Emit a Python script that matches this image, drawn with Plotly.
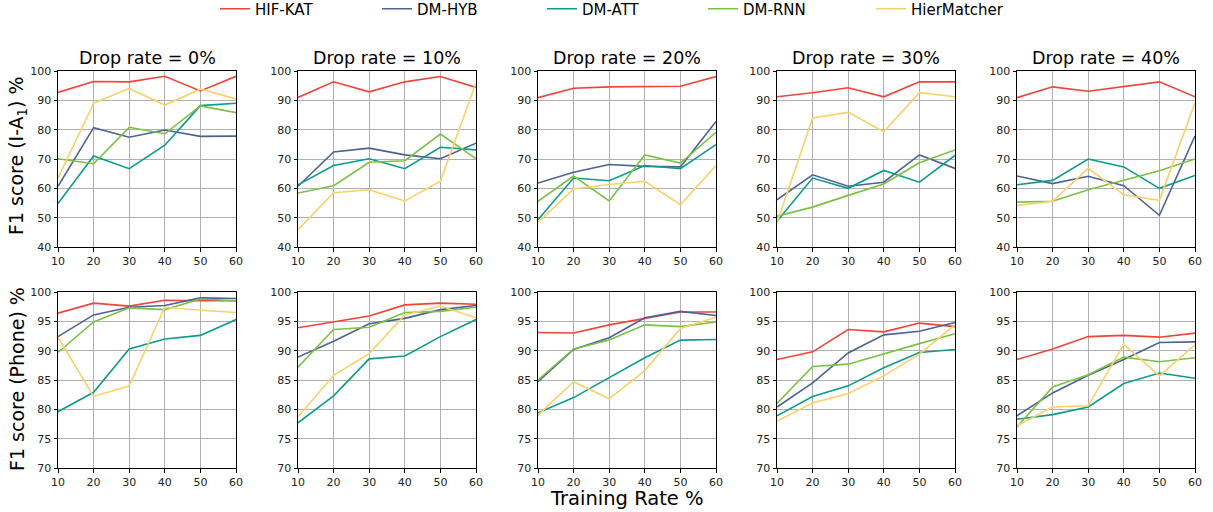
import plotly.graph_objects as go
from plotly.subplots import make_subplots

training_rate = [10, 20, 30, 40, 50, 60]
drop_rates = ["0%", "10%", "20%", "30%", "40%"]
methods = ["HIF-KAT", "DM-HYB", "DM-ATT", "DM-RNN", "HierMatcher"]
colors = ["#F0433A", "#4C6292", "#0D9A89", "#7BC144", "#F8D16B"]

# Row 1: F1 score (I-A1) %
ia1_hifkat = [
    [92.7, 96.4, 96.3, 98.2, 93.2, 98.2],
    [91.0, 96.3, 92.9, 96.3, 98.1, 94.4],
    [90.9, 94.1, 94.6, 94.7, 94.8, 98.1],
    [91.2, 92.6, 94.3, 91.2, 96.3, 96.3],
    [90.9, 94.6, 93.1, 94.6, 96.3, 91.2],
]
ia1_dmhyb = [
    [60.7, 80.7, 77.4, 79.9, 77.7, 77.8],
    [60.7, 72.4, 73.7, 71.4, 70.1, 75.4],
    [61.8, 65.5, 68.1, 67.5, 67.3, 82.8],
    [56.1, 64.6, 60.7, 62.1, 71.4, 66.8],
    [64.2, 61.6, 64.1, 60.9, 50.8, 77.9],
]
ia1_dmatt = [
    [54.8, 71.0, 66.7, 74.7, 88.2, 89.0],
    [61.2, 67.8, 70.1, 66.7, 74.0, 73.1],
    [49.3, 63.5, 62.6, 67.8, 66.7, 74.9],
    [48.8, 63.5, 60.0, 66.1, 62.1, 71.2],
    [61.2, 62.7, 70.0, 67.3, 60.0, 64.4],
]
ia1_dmrnn = [
    [70.1, 68.4, 80.8, 78.6, 88.1, 85.8],
    [58.4, 60.9, 68.9, 69.4, 78.5, 70.1],
    [55.6, 64.2, 55.7, 71.4, 68.6, 79.1],
    [50.5, 53.6, 57.6, 61.5, 68.7, 73.1],
    [55.3, 55.6, 59.5, 62.8, 66.0, 70.0],
]
ia1_hiermatcher = [
    [63.5, 89.0, 94.1, 88.4, 93.8, 90.5],
    [45.9, 58.5, 59.5, 55.7, 62.4, 96.0],
    [48.4, 59.8, 61.3, 62.4, 54.4, 67.8],
    [48.2, 84.0, 85.9, 79.3, 92.6, 91.2],
    [54.2, 55.6, 66.8, 57.8, 55.9, 89.2],
]

# Row 2: F1 score (Phone) %
phone_hifkat = [
    [96.4, 98.1, 97.6, 98.6, 98.5, 98.5],
    [93.9, 94.9, 95.9, 97.8, 98.1, 97.9],
    [93.1, 93.0, 94.4, 95.5, 96.6, 96.6],
    [88.5, 89.8, 93.6, 93.2, 94.7, 94.1],
    [88.5, 90.3, 92.4, 92.6, 92.3, 93.0],
]
phone_dmhyb = [
    [92.4, 96.1, 97.4, 97.7, 99.0, 98.9],
    [88.9, 91.6, 94.6, 95.5, 97.0, 97.7],
    [84.7, 90.2, 92.2, 95.6, 96.7, 96.0],
    [80.4, 84.5, 89.6, 92.7, 93.3, 94.8],
    [78.9, 82.8, 85.8, 88.5, 91.4, 91.5],
]
phone_dmatt = [
    [79.6, 82.9, 90.3, 92.0, 92.6, 95.3],
    [77.7, 82.3, 88.6, 89.1, 92.4, 95.3],
    [79.4, 82.0, 85.4, 88.8, 91.8, 91.9],
    [78.9, 82.2, 84.0, 87.1, 89.7, 90.2],
    [78.3, 79.1, 80.4, 84.4, 86.2, 85.3],
]
phone_dmrnn = [
    [89.7, 94.9, 97.3, 97.0, 98.8, 98.5],
    [87.2, 93.6, 94.0, 96.5, 96.7, 97.4],
    [85.0, 90.3, 91.8, 94.4, 94.1, 94.9],
    [81.0, 87.3, 87.7, 89.5, 91.2, 92.9],
    [77.0, 83.8, 85.9, 88.9, 88.1, 88.8],
]
phone_hiermatcher = [
    [92.3, 82.2, 84.0, 97.4, 96.9, 96.5],
    [78.7, 85.8, 89.5, 96.1, 97.6, 95.6],
    [79.0, 84.7, 81.8, 86.6, 93.8, 95.7],
    [78.0, 81.1, 82.7, 85.7, 89.4, 94.4],
    [77.2, 80.4, 80.6, 91.1, 85.7, 91.0],
]

row_data = [
    [ia1_hifkat, ia1_dmhyb, ia1_dmatt, ia1_dmrnn, ia1_hiermatcher],
    [phone_hifkat, phone_dmhyb, phone_dmatt, phone_dmrnn, phone_hiermatcher],
]

W, H = 1213, 512
FONT = "DejaVu Sans"
col_px = [(58, 236), (298, 476), (538, 716), (777, 955), (1017, 1195)]
row_px = [(71, 247), (292, 468)]
legend_px = [215, 377, 542, 703, 871]

fig = make_subplots(rows=2, cols=5)

for r in range(2):
    for c in range(5):
        for m in range(5):
            fig.add_trace(
                go.Scatter(
                    x=training_rate,
                    y=row_data[r][m][c],
                    mode="lines",
                    name=methods[m],
                    line=dict(color=colors[m], width=1.6),
                    showlegend=(r == 0 and c == 0),
                    legendgroup=methods[m],
                    legend="legend" if m == 0 else f"legend{m + 1}",
                ),
                row=r + 1, col=c + 1,
            )

axis_common = dict(
    showline=True, linecolor="black", linewidth=1, mirror=True,
    showgrid=True, gridcolor="#b0b0b0", gridwidth=1,
    ticks="outside", ticklen=3.5, tickcolor="black", tickwidth=1,
    tickfont=dict(family=FONT, size=11, color="#222"),
    zeroline=False, automargin=False,
)

for r in range(2):
    for c in range(5):
        idx = r * 5 + c + 1
        xa = "xaxis" if idx == 1 else f"xaxis{idx}"
        ya = "yaxis" if idx == 1 else f"yaxis{idx}"
        x0, x1 = col_px[c]
        y0, y1 = row_px[r]
        fig.layout[xa].update(
            domain=[x0 / W, x1 / W], range=[10, 60],
            tickmode="array", tickvals=training_rate, **axis_common,
        )
        if r == 0:
            fig.layout[ya].update(
                domain=[1 - y1 / H, 1 - y0 / H], range=[40, 100],
                tickmode="array", tickvals=[40, 50, 60, 70, 80, 90, 100], **axis_common,
            )
        else:
            fig.layout[ya].update(
                domain=[1 - y1 / H, 1 - y0 / H], range=[70, 100],
                tickmode="array", tickvals=[70, 75, 80, 85, 90, 95, 100], **axis_common,
            )

annotations = []
for c in range(5):
    x0, x1 = col_px[c]
    annotations.append(dict(
        text=f"Drop rate = {drop_rates[c]}", x=(x0 + x1) / 2 / W, y=1 - 58 / H,
        xref="paper", yref="paper", xanchor="center", yanchor="middle",
        showarrow=False, font=dict(family=FONT, size=17.5, color="black"),
    ))
annotations.append(dict(
    text="F1 score (I-A<sub>1</sub>) %", x=17 / W, y=1 - 156 / H, xref="paper", yref="paper",
    xanchor="center", yanchor="middle", textangle=-90, showarrow=False,
    font=dict(family=FONT, size=19, color="black"),
))
annotations.append(dict(
    text="F1 score (Phone) %", x=17 / W, y=1 - 379 / H, xref="paper", yref="paper",
    xanchor="center", yanchor="middle", textangle=-90, showarrow=False,
    font=dict(family=FONT, size=19, color="black"),
))
annotations.append(dict(
    text="Training Rate %", x=627 / W, y=1 - 498 / H, xref="paper", yref="paper",
    xanchor="center", yanchor="middle", showarrow=False,
    font=dict(family=FONT, size=19.5, color="black"),
))

legends = {}
for m in range(5):
    key = "legend" if m == 0 else f"legend{m + 1}"
    legends[key] = dict(
        orientation="h", x=legend_px[m] / W, y=1 - 9 / H,
        xref="container", yref="container",
        xanchor="left", yanchor="middle",
        font=dict(family=FONT, size=15, color="black"),
        bgcolor="rgba(0,0,0,0)", itemwidth=30,
    )

fig.update_layout(
    width=W, height=H,
    template="none",
    margin=dict(l=0, r=0, t=0, b=0, autoexpand=False),
    paper_bgcolor="white", plot_bgcolor="white",
    annotations=annotations,
    **legends,
)

fig.write_html(
    "out.html",
    config={"displayModeBar": False},
    post_script="document.body.style.margin='0';document.body.style.overflow='hidden';",
)
